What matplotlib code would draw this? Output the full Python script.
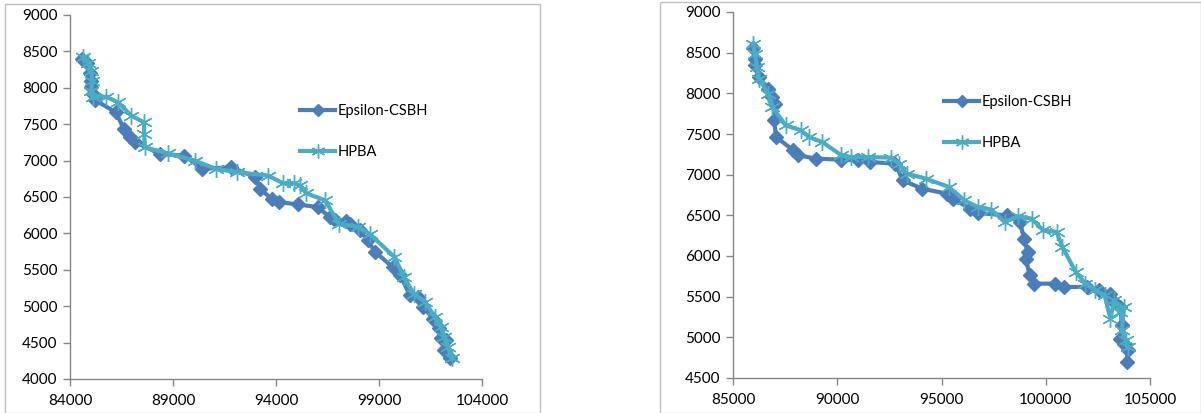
import matplotlib
matplotlib.use("Agg")
import matplotlib.pyplot as plt
from matplotlib.lines import Line2D
from matplotlib.patches import Rectangle

plt.rcParams['font.family'] = ['Lato', 'DejaVu Sans']

# ---- Left chart data ----
left_eps_x = [84559, 84839, 84988, 85025, 85025, 85118, 85212, 86237, 86610, 86890, 87170, 88380,
              89554, 90430, 91828, 93002, 93226, 93785, 94158, 95090, 96022, 96618, 96860, 97420,
              97606, 98072, 98445, 98818, 99657, 100030, 100496, 100869, 101148, 101614, 101894,
              101987, 102267, 102174, 102453]
left_eps_y = [8393, 8347, 8210, 8096, 8005, 7913, 7831, 7662, 7434, 7320, 7251, 7091,
              7068, 6886, 6909, 6772, 6612, 6475, 6429, 6397, 6361, 6224, 6178, 6169,
              6132, 6041, 5904, 5744, 5539, 5425, 5151, 5128, 4991, 4831, 4694,
              4557, 4534, 4397, 4283]
left_hpba_x = [84652, 84876, 85025, 85081, 85025, 85118, 85771, 86330, 86983, 87598, 87598, 87635,
               88753, 90058, 91083, 92108, 93599, 94345, 94867, 95184, 95464, 96396, 97048, 97980,
               98539, 99750, 100216, 100682, 101241, 101707, 101987, 102174, 102360, 102546]
left_hpba_y = [8425, 8347, 8233, 8096, 7959, 7868, 7877, 7799, 7616, 7525, 7365, 7183,
               7100, 7000, 6886, 6840, 6795, 6689, 6689, 6658, 6553, 6452, 6132, 6087,
               5995, 5676, 5402, 5174, 5059, 4854, 4717, 4580, 4443, 4283]

# ---- Right chart data ----
right_eps_x = [85958, 86051, 86051, 86235, 86659, 86880, 87028, 86972, 87065, 87894, 88134, 89000,
               90161, 90972, 91581, 92779, 93147, 94069, 95267, 95544, 96373, 96742, 98124, 98770,
               98954, 99138, 99046, 99230, 99415, 100429, 100853, 101995, 102548, 103101, 103194,
               103562, 103655, 103562, 103747, 103931, 103894]
right_eps_y = [8557, 8426, 8344, 8201, 8057, 7955, 7873, 7668, 7463, 7299, 7238, 7197,
               7184, 7176, 7156, 7135, 6930, 6828, 6766, 6705, 6582, 6529, 6500, 6418,
               6213, 6049, 5967, 5762, 5660, 5660, 5619, 5619, 5578, 5537, 5455,
               5373, 5148, 4984, 4922, 4840, 4697]
right_hpba_x = [85958, 86051, 86143, 86235, 86696, 86880, 87525, 88263, 88631, 89276, 90198, 90659,
                91488, 92594, 92963, 93332, 94253, 95359, 96097, 96742, 97387, 98032, 98677, 99323,
                99876, 100521, 100797, 101442, 101903, 102364, 102825, 103101, 103286, 103562,
                103747, 103655, 103839, 103931]
right_hpba_y = [8611, 8488, 8324, 8180, 7996, 7832, 7607, 7545, 7463, 7402, 7238, 7217,
                7217, 7209, 7135, 7012, 6951, 6848, 6684, 6602, 6570, 6418, 6488, 6459,
                6316, 6295, 6111, 5803, 5660, 5578, 5516, 5230, 5455, 5311,
                5373, 5086, 4963, 4881]

left_xticks = [84000, 89000, 94000, 99000, 104000]
left_yticks = [4000, 4500, 5000, 5500, 6000, 6500, 7000, 7500, 8000, 8500, 9000]
right_xticks = [85000, 90000, 95000, 100000, 105000]
right_yticks = [4500, 5000, 5500, 6000, 6500, 7000, 7500, 8000, 8500, 9000]

series_names = ['Epsilon-CSBH', 'HPBA']

EPS_C = '#4A7EBB'
HPBA_C = '#4BACC6'
STAR = (6, 2, 0)

W, H = 1201, 413
fig = plt.figure(figsize=(W / 100, H / 100), dpi=100)

def px(x0, y0, x1, y1):
    return [x0 / W, 1 - y1 / H, (x1 - x0) / W, (y1 - y0) / H]

# chart frames
fig.patches.append(Rectangle((5 / W, 0), 535 / W, 1 - 4 / H, transform=fig.transFigure,
                             fill=False, edgecolor='#BFBFBF', lw=1))
fig.patches.append(Rectangle((660 / W, 0), (W - 660) / W, 1 - 2 / H, transform=fig.transFigure,
                             fill=False, edgecolor='#BFBFBF', lw=1))

def make(rect, ex, ey, hx, hy, xt, yt, leg_pos):
    ax = fig.add_axes(rect)
    ax.plot(ex, ey, color=EPS_C, lw=3, marker='D', ms=7, mfc=EPS_C, mec=EPS_C, zorder=3)
    ax.plot(hx, hy, color=HPBA_C, lw=3, marker=STAR, ms=12, mec=HPBA_C, mew=1, zorder=4)
    ax.set_xlim(xt[0], xt[-1])
    ax.set_ylim(yt[0], yt[-1])
    ax.set_xticks(xt)
    ax.set_yticks(yt)
    ax.set_xticklabels([str(v) for v in xt])
    ax.set_yticklabels([str(v) for v in yt])
    for s in ['top', 'right']:
        ax.spines[s].set_visible(False)
    for s in ['left', 'bottom']:
        ax.spines[s].set_color('#868686')
        ax.spines[s].set_linewidth(1)
    ax.tick_params(axis='both', direction='out', length=5, width=1, color='#868686',
                   labelsize=11, labelcolor='black')
    ax.tick_params(axis='x', pad=6)
    ax.tick_params(axis='y', pad=4)
    handles = [Line2D([], [], color=EPS_C, lw=3, marker='D', ms=6),
               Line2D([], [], color=HPBA_C, lw=3, marker=STAR, ms=10, mew=1)]
    fig.legend(handles, series_names, loc='upper left',
               bbox_to_anchor=leg_pos, bbox_transform=fig.transFigure,
               frameon=False, fontsize=10.5, handlelength=2.4, handletextpad=0.2,
               labelspacing=1.85, borderpad=0, borderaxespad=0)
    return ax

make(px(70, 15, 482, 379), left_eps_x, left_eps_y, left_hpba_x, left_hpba_y,
     left_xticks, left_yticks, (300 / W, 1 - 104 / H))
make(px(733, 12, 1150, 378), right_eps_x, right_eps_y, right_hpba_x, right_hpba_y,
     right_xticks, right_yticks, (944 / W, 1 - 95 / H))

fig.savefig('out.png', dpi=100)
